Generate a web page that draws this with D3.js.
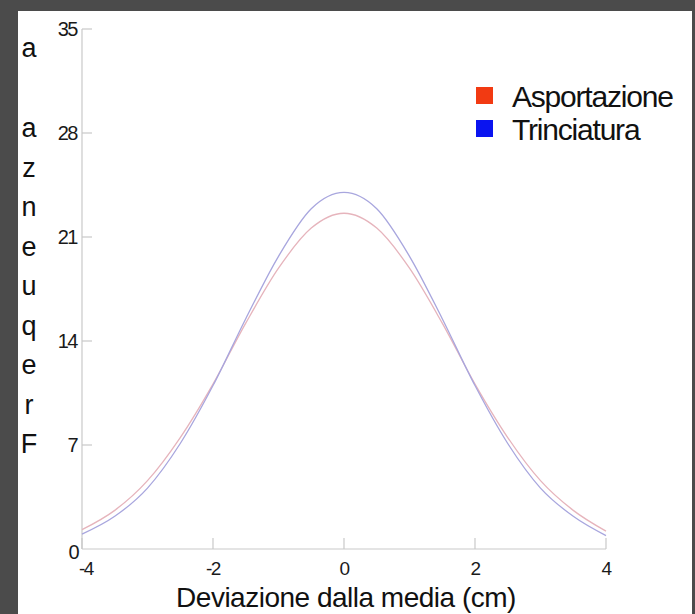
<!DOCTYPE html>
<html>
<head>
<meta charset="utf-8">
<script src="https://cdn.jsdelivr.net/npm/d3@7"></script>
<style>
	body { margin: 0; background: #4b4b4b; }
	svg { display: block; font-family: "Liberation Sans", Arial, sans-serif; }
</style>
</head>
<body>
<svg id="chart" width="695" height="614"></svg>
<script>
// Values
const deviations = [-4, -3.5, -3, -2.5, -2, -1.5, -1, -0.5, 0, 0.5, 1, 1.5, 2, 2.5, 3, 3.5, 4]
const asportazione = [1.3, 2.6, 4.6, 7.5, 11.1, 15.2, 18.9, 21.6, 22.6, 21.6, 18.9, 15.2, 11.1, 7.5, 4.6, 2.6, 1.2]
const trinciatura = [1.0, 2.2, 4.1, 7.1, 11.0, 15.5, 19.7, 22.9, 24.0, 22.9, 19.7, 15.5, 11.0, 7.1, 4.1, 2.2, 0.9]
const xTicks = [-4, -2, 0, 2, 4]
const yTicks = [0, 7, 14, 21, 28, 35]
const yLabel = ['a', 'a', 'z', 'n', 'e', 'u', 'q', 'e', 'r', 'F']

const series = [
	{ name: 'Asportazione', values: asportazione, line: '#e6b4bc', swatch: '#f23a12' },
	{ name: 'Trinciatura', values: trinciatura, line: '#a8a6de', swatch: '#0a14f0' }
]

;(function() {
	let svg = d3.select('#chart')

	// white panel on the dark slide
	svg.append('rect')
		.attr('x', 18).attr('y', 11)
		.attr('width', 674).attr('height', 603)
		.attr('fill', '#ffffff')

	let x = d3.scaleLinear().domain([-4, 4]).range([82, 606])
	let y = d3.scaleLinear().domain([0, 35]).range([549, 29])

	drawAxes(svg, x, y)

	series.forEach(s => {
		svg.append('path')
			.datum(deviations.map((d, i) => [d, s.values[i]]))
			.attr('fill', 'none')
			.attr('stroke', s.line)
			.attr('stroke-width', 1.3)
			.attr('d', d3.line()
				.x(d => x(d[0]))
				.y(d => y(d[1]))
				.curve(d3.curveMonotoneX))
	})

	createLegends(svg)

	// axis titles
	svg.append('text')
		.attr('x', 346).attr('y', 607)
		.attr('text-anchor', 'middle')
		.attr('font-size', 28)
		.attr('letter-spacing', -0.5)
		.attr('fill', '#111')
		.text('Deviazione dalla media (cm)')

	// stacked letters of the y title; first one sits apart at the top
	svg.append('g').selectAll('text')
		.data(yLabel)
		.join('text')
		.attr('x', 29)
		.attr('y', (d, i) => (i === 0 ? 48 : 128 + (i - 1) * 39.5) + 9)
		.attr('text-anchor', 'middle')
		.attr('font-size', 27)
		.attr('fill', '#111')
		.text(d => d)
})();

/**
 * Light gray axes with short inward ticks, labels outside.
 */
function drawAxes(svg, x, y) {
	let g = svg.append('g').attr('stroke', '#c9c9c9').attr('stroke-width', 1.2)

	g.append('line')
		.attr('x1', x(-4)).attr('x2', x(4))
		.attr('y1', y(0)).attr('y2', y(0))
	g.append('line')
		.attr('x1', x(-4)).attr('x2', x(-4))
		.attr('y1', y(0)).attr('y2', y(35))

	g.selectAll('.xt')
		.data(xTicks)
		.join('line')
		.attr('x1', d => x(d)).attr('x2', d => x(d))
		.attr('y1', y(0)).attr('y2', y(0) - 11)

	g.selectAll('.yt')
		.data(yTicks.slice(1))
		.join('line')
		.attr('x1', x(-4)).attr('x2', x(-4) + 10)
		.attr('y1', d => y(d)).attr('y2', d => y(d))

	svg.append('g').selectAll('text')
		.data(xTicks)
		.join('text')
		.attr('x', d => x(d) + (d === -4 ? 4 : 0))
		.attr('y', 575)
		.attr('text-anchor', 'middle')
		.attr('font-size', 19)
		.attr('letter-spacing', -1.4)
		.attr('fill', '#1a1a1a')
		.text(d => d)

	svg.append('g').selectAll('text')
		.data(yTicks)
		.join('text')
		.attr('x', d => d === 0 ? 78 : 77)
		.attr('y', d => y(d) + (d === 0 ? 10 : 7))
		.attr('text-anchor', 'end')
		.attr('font-size', 20)
		.attr('letter-spacing', -1.5)
		.attr('fill', '#1a1a1a')
		.text(d => d)
}

/**
 * Square swatches with names, top right.
 */
function createLegends(svg) {
	series.forEach((s, i) => {
		let cy = 96 + i * 33
		svg.append('rect')
			.attr('x', 476).attr('y', cy - 9)
			.attr('width', 17).attr('height', 17)
			.attr('fill', s.swatch)
		svg.append('text')
			.attr('x', 512).attr('y', cy + 11)
			.attr('font-size', 30)
			.attr('letter-spacing', -1.2)
			.attr('fill', '#111')
			.text(s.name)
	})
}
</script>
</body>
</html>
